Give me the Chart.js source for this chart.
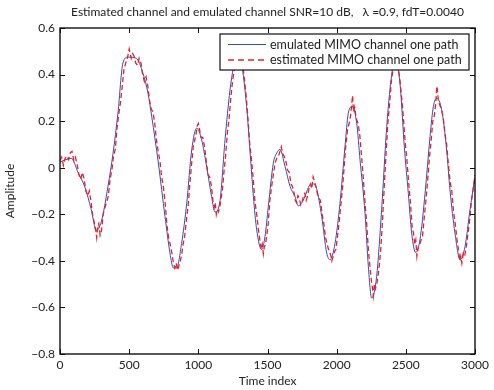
<!DOCTYPE html>
<html><head><meta charset="utf-8">
<script src="https://cdn.jsdelivr.net/npm/chart.js@4/dist/chart.umd.min.js"></script>
<style>html,body{margin:0;padding:0;background:#fff;}#wrap{width:494px;height:390px;}</style>
</head><body><div id="wrap"><canvas id="c" width="494" height="390"></canvas></div>
<script>
const titleText = "Estimated channel and emulated channel SNR=10 dB,   \u03bb =0.9, fdT=0.0040";
const xLabel = "Time index";
const yLabel = "Amplitude";
const seriesNames = ["emulated MIMO channel one path", "estimated MIMO channel one path"];
const xTicks = [0, 500, 1000, 1500, 2000, 2500, 3000];
const yTicks = [-0.8, -0.6, -0.4, -0.2, 0, 0.2, 0.4, 0.6];

const emulatedIdx = [0,82,130,178,226,263,299,347,383,419,455,492,552,600,636,663,711,759,795,819,843,879,916,952,988,1024,1060,1096,1120,1157,1193,1229,1253,1283,1313,1349,1373,1398,1422,1458,1482,1506,1542,1566,1590,1627,1663,1699,1723,1759,1807,1831,1855,1892,1928,1952,1988,2024,2060,2084,2113,2145,2169,2205,2229,2253,2289,2325,2362,2393,2422,2458,2489,2518,2542,2571,2602,2639,2675,2699,2723,2759,2795,2819,2855,2892,2928,2964,2993,3000];
const emulatedVal = [0.025,0.04,-0.02,-0.08,-0.18,-0.27,-0.23,-0.08,0.06,0.235,0.45,0.475,0.47,0.405,0.32,0.22,0.02,-0.21,-0.366,-0.43,-0.43,-0.325,-0.153,0.076,0.17,0.12,0.005,-0.124,-0.19,-0.14,0.12,0.334,0.43,0.52,0.449,0.263,0.076,-0.124,-0.267,-0.352,-0.295,-0.166,0.019,0.062,0.079,0.005,-0.08,-0.124,-0.164,-0.139,-0.074,-0.07,-0.09,-0.21,-0.366,-0.395,-0.325,-0.153,0.09,0.234,0.263,0.19,0.033,-0.196,-0.424,-0.56,-0.467,-0.18,0.177,0.378,0.47,0.36,0.09,-0.11,-0.28,-0.364,-0.31,-0.11,0.134,0.263,0.298,0.249,0.076,-0.095,-0.28,-0.395,-0.338,-0.18,-0.066,-0.04];

const estimatedIdx = [0,12,25,37,50,62,75,87,100,112,125,137,150,162,175,187,200,212,225,237,250,258,265,272,280,290,300,312,325,337,350,362,375,387,400,412,425,437,450,462,475,487,500,507,515,525,535,547,560,572,585,597,610,622,635,647,660,672,685,697,710,722,735,747,760,772,785,797,810,820,830,840,850,860,870,880,890,902,915,927,940,952,965,975,985,992,1000,1010,1020,1032,1045,1057,1070,1082,1095,1105,1115,1122,1130,1137,1145,1155,1165,1175,1185,1197,1210,1222,1235,1247,1260,1285,1310,1322,1335,1347,1360,1372,1385,1397,1410,1422,1435,1445,1455,1462,1470,1477,1485,1495,1505,1517,1530,1542,1555,1567,1580,1590,1600,1610,1620,1632,1645,1657,1670,1680,1690,1700,1710,1720,1730,1740,1750,1760,1770,1780,1790,1800,1810,1820,1830,1840,1850,1860,1870,1882,1895,1907,1920,1932,1945,1955,1965,1975,1985,1995,2005,2017,2030,2042,2055,2067,2080,2090,2100,2107,2115,2122,2130,2142,2155,2167,2180,2192,2205,2217,2230,2240,2250,2257,2265,2272,2280,2290,2300,2310,2320,2332,2345,2357,2370,2382,2395,2407,2420,2432,2445,2457,2470,2482,2495,2507,2520,2532,2545,2555,2565,2572,2580,2590,2600,2610,2620,2632,2645,2657,2670,2682,2695,2705,2715,2720,2725,2735,2745,2757,2770,2782,2795,2807,2820,2832,2845,2857,2870,2880,2890,2897,2905,2915,2925,2937,2950,2962,2975,2987,3000];
const estimatedVal = [0.03,0.045,0.01,0.04,0.05,0.035,0.065,0.07,0.03,0.045,0.01,-0.03,-0.05,-0.02,-0.05,-0.10,-0.12,-0.10,-0.15,-0.21,-0.24,-0.27,-0.30,-0.25,-0.24,-0.29,-0.27,-0.20,-0.17,-0.15,-0.12,-0.05,-0.01,0.05,0.08,0.17,0.23,0.28,0.35,0.42,0.45,0.47,0.51,0.49,0.47,0.49,0.48,0.45,0.44,0.47,0.45,0.40,0.37,0.39,0.35,0.29,0.25,0.24,0.19,0.12,0.07,0.03,-0.04,-0.08,-0.15,-0.24,-0.30,-0.33,-0.37,-0.41,-0.43,-0.41,-0.44,-0.42,-0.40,-0.37,-0.33,-0.29,-0.22,-0.16,-0.06,0.02,0.10,0.12,0.15,0.18,0.19,0.16,0.13,0.13,0.09,0.03,-0.03,-0.04,-0.08,-0.14,-0.17,-0.15,-0.20,-0.18,-0.19,-0.17,-0.13,-0.09,-0.02,0.05,0.15,0.21,0.30,0.37,0.42,0.52,0.50,0.44,0.37,0.30,0.20,0.10,0.03,-0.05,-0.15,-0.20,-0.27,-0.31,-0.35,-0.33,-0.37,-0.34,-0.33,-0.29,-0.24,-0.14,-0.08,-0.03,0.02,0.04,0.05,0.07,0.09,0.06,0.05,0.03,-0.01,-0.02,-0.07,-0.08,-0.10,-0.14,-0.15,-0.12,-0.13,-0.16,-0.15,-0.12,-0.11,-0.14,-0.12,-0.09,-0.07,-0.09,-0.04,-0.06,-0.08,-0.11,-0.13,-0.14,-0.20,-0.24,-0.30,-0.33,-0.36,-0.37,-0.40,-0.38,-0.36,-0.35,-0.30,-0.24,-0.16,-0.09,0.01,0.10,0.17,0.19,0.22,0.26,0.31,0.24,0.26,0.21,0.19,0.14,0.05,-0.04,-0.15,-0.24,-0.36,-0.42,-0.48,-0.51,-0.55,-0.50,-0.52,-0.50,-0.46,-0.41,-0.34,-0.22,-0.07,0.06,0.19,0.27,0.37,0.42,0.47,0.45,0.43,0.38,0.30,0.22,0.11,0.04,-0.06,-0.14,-0.25,-0.28,-0.33,-0.31,-0.38,-0.34,-0.33,-0.31,-0.30,-0.22,-0.14,-0.06,0.04,0.11,0.20,0.22,0.27,0.31,0.35,0.29,0.27,0.25,0.22,0.15,0.10,0.02,-0.06,-0.10,-0.19,-0.24,-0.31,-0.35,-0.40,-0.38,-0.41,-0.37,-0.38,-0.34,-0.28,-0.22,-0.14,-0.09,-0.03];

const FONT = "Lato, 'Open Sans', sans-serif";
const BLUE = "#2f4fb5";
const RED = "#ee1c25";

const frame = {
  id: 'frame',
  afterDatasetsDraw(chart) {
    const ctx = chart.ctx, a = chart.chartArea;
    const xs = chart.scales.x, ys = chart.scales.y;
    ctx.save();
    // title centred over the plot area
    ctx.fillStyle = '#222';
    ctx.font = "12px " + FONT;
    ctx.textAlign = 'center';
    ctx.textBaseline = 'middle';
    ctx.fillText(titleText, (a.left + a.right) / 2, 12.5);
    ctx.textAlign = 'left';

    ctx.strokeStyle = '#111';
    ctx.lineWidth = 1;
    const L = 5;
    ctx.beginPath();
    xTicks.forEach(v => {
      const px = Math.round(xs.getPixelForValue(v)) + 0.5;
      ctx.moveTo(px, a.bottom); ctx.lineTo(px, a.bottom - L);
      ctx.moveTo(px, a.top); ctx.lineTo(px, a.top + L);
    });
    yTicks.forEach(v => {
      const py = Math.round(ys.getPixelForValue(v)) + 0.5;
      ctx.moveTo(a.left, py); ctx.lineTo(a.left + L, py);
      ctx.moveTo(a.right, py); ctx.lineTo(a.right - L, py);
    });
    ctx.stroke();
    ctx.lineWidth = 1.4;
    ctx.strokeRect(a.left, a.top, a.right - a.left, a.bottom - a.top);

    // legend
    const bx = 220, by = 34, bw = 249, bh = 36;
    ctx.fillStyle = '#fff';
    ctx.fillRect(bx, by, bw, bh);
    ctx.lineWidth = 1.2;
    ctx.strokeStyle = '#111';
    ctx.strokeRect(bx, by, bw, bh);
    const rows = [{y: by + 10.5, c: BLUE, dash: [], w: 1}, {y: by + 26, c: RED, dash: [6, 4], w: 1.3}];
    ctx.font = "12.5px " + FONT;
    ctx.textBaseline = 'middle';
    rows.forEach((r, i) => {
      ctx.strokeStyle = r.c; ctx.lineWidth = r.w; ctx.setLineDash(r.dash);
      ctx.beginPath(); ctx.moveTo(bx + 8, r.y); ctx.lineTo(bx + 46, r.y); ctx.stroke();
      ctx.setLineDash([]);
      ctx.fillStyle = '#222';
      ctx.fillText(seriesNames[i], bx + 50, r.y);
    });
    ctx.restore();
  }
};

new Chart(document.getElementById('c'), {
  type: 'line',
  data: {
    datasets: [
      { label: seriesNames[0], data: emulatedIdx.map((x, i) => ({x, y: emulatedVal[i]})),
        borderColor: BLUE, borderWidth: 1, pointRadius: 0, cubicInterpolationMode: 'monotone', order: 1 },
      { label: seriesNames[1], data: estimatedIdx.map((x, i) => ({x, y: estimatedVal[i]})),
        borderColor: RED, borderWidth: 1.3, borderDash: [5, 3], pointRadius: 0, tension: 0, order: 0 }
    ]
  },
  options: {
    responsive: false, animation: false, devicePixelRatio: 1,
    layout: { padding: { left: 0, right: 19, top: 28, bottom: 0 } },
    plugins: { legend: { display: false }, tooltip: { enabled: false }, title: { display: false } },
    scales: {
      x: { type: 'linear', min: 0, max: 3000,
        afterBuildTicks: s => { s.ticks = xTicks.map(v => ({value: v})); },
        afterFit: s => { s.height = 36; },
        grid: { display: false, drawTicks: false }, border: { display: false },
        ticks: { color: '#222', font: { family: FONT, size: 12 }, padding: 4, maxRotation: 0, autoSkip: false,
          callback: v => String(Math.round(v)) },
        title: { display: true, text: xLabel, color: '#222', font: { family: FONT, size: 12 }, padding: { top: 0, bottom: 2 } }
      },
      y: { type: 'linear', min: -0.8, max: 0.6,
        afterBuildTicks: s => { s.ticks = yTicks.map(v => ({value: v})); },
        afterFit: s => { s.width = 60; },
        grid: { display: false, drawTicks: false }, border: { display: false },
        ticks: { color: '#222', font: { family: FONT, size: 12 }, padding: 5,
          callback: v => { const r = Math.round(v * 10) / 10; return r < 0 ? '\u2212' + Math.abs(r).toString() : r.toString(); } },
        title: { display: true, text: yLabel, color: '#222', font: { family: FONT, size: 12 }, padding: { top: 3, bottom: 0 } }
      }
    }
  },
  plugins: [frame]
});
</script></body></html>
